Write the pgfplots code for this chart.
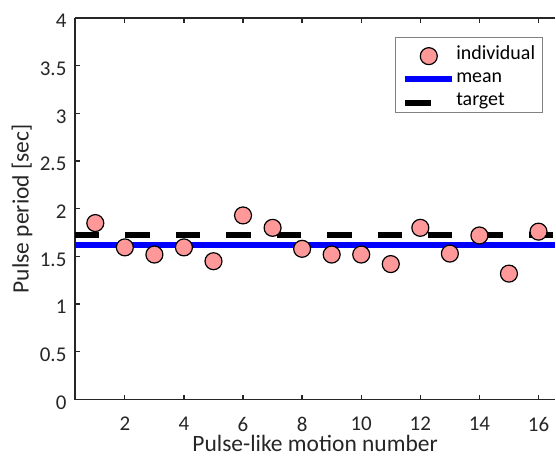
\documentclass[border=0pt]{standalone}
\usepackage{pgfplots}
\pgfplotsset{compat=1.18}
\usepackage{fontspec}
\setmainfont{Carlito}
\definecolor{txt}{RGB}{38,38,38}
\definecolor{pink}{RGB}{255,153,153}
\definecolor{legframe}{RGB}{130,130,130}
\pgfplotsset{
    dotimg/.style={legend image code/.code={\draw[##1] plot coordinates {(23.5pt,0pt)};}},
    longimg/.style={legend image code/.code={\draw[##1] (0pt,0pt) -- (47pt,0pt);}},
    shortimg/.style={legend image code/.code={\draw[##1, solid] (0pt,0pt) -- (26pt,0pt);}},
}

\begin{document}
\begin{tikzpicture}
\begin{axis}[
    scale only axis,
    width=481pt, height=382pt,
    xmin=0.31, xmax=16.57,
    ymin=0, ymax=4,
    axis x line*=box,
    axis y line*=left,
    axis line style={txt, line width=1.3pt},
    xtick={2,4,...,16},
    ytick={0,0.5,...,4},
    tick align=inside,
    major tick length=5pt,
    tick style={txt, line width=1.3pt},
    /pgf/number format/assume math mode=true,
    ticklabel style={font=\fontsize{21}{24}\selectfont, text=txt},
    xticklabel style={yshift=-14pt},
    yticklabel style={xshift=-5pt, yshift=-3pt},
    xlabel={Pulse-like motion number},
    ylabel={Pulse period [sec]},
    every axis x label/.style={at={(rel axis cs:0.5,0)}, anchor=base, yshift=-52pt,
        inner sep=0pt, font=\fontsize{23.5}{27}\selectfont, text=txt},
    every axis y label/.style={at={(rel axis cs:0,0.5)}, xshift=-53pt, anchor=center, rotate=90,
        font=\fontsize{23.5}{27}\selectfont, text=txt},
    legend cell align=left,
    legend style={at={(rel axis cs:1,1)}, anchor=north east, xshift=-13pt, yshift=-29pt,
        draw=none, fill=none,
        font=\fontsize{20}{24}\selectfont, text=black,
        inner xsep=6pt, inner ysep=0pt, row sep=5.3pt,
        nodes={inner sep=1pt, text height=11pt, text depth=5pt}},
]
% legend frame
\draw[legframe, line width=1pt, fill=white] (rel axis cs:0.667,0.751) rectangle (rel axis cs:0.973,0.948);

\addlegendimage{only marks, mark=*, mark size=8.5pt, mark options={fill=pink, draw=black, line width=1.2pt}, dotimg}
\addlegendentry{individual}

\addplot[blue, line width=6pt, longimg]
    coordinates {(0.31,1.62) (16.57,1.62)};
\addlegendentry{mean}

\addplot[black, line width=6pt, dash pattern=on 24.5pt off 26pt, shortimg]
    coordinates {(0.31,1.72) (16.57,1.72)};
\addlegendentry{target}

\addplot[only marks, mark=*, mark size=8.5pt, mark options={fill=pink, draw=black, line width=1.2pt}, forget plot]
    coordinates {
    (1,1.85) (2,1.595) (3,1.52) (4,1.595) (5,1.45) (6,1.93) (7,1.80) (8,1.58)
    (9,1.52) (10,1.52) (11,1.42) (12,1.80) (13,1.53) (14,1.72) (15,1.32) (16,1.76)};
\end{axis}
\path (current axis.south west) ++(-75pt,-58pt) rectangle ++(556pt,458pt);
\end{tikzpicture}
\end{document}
